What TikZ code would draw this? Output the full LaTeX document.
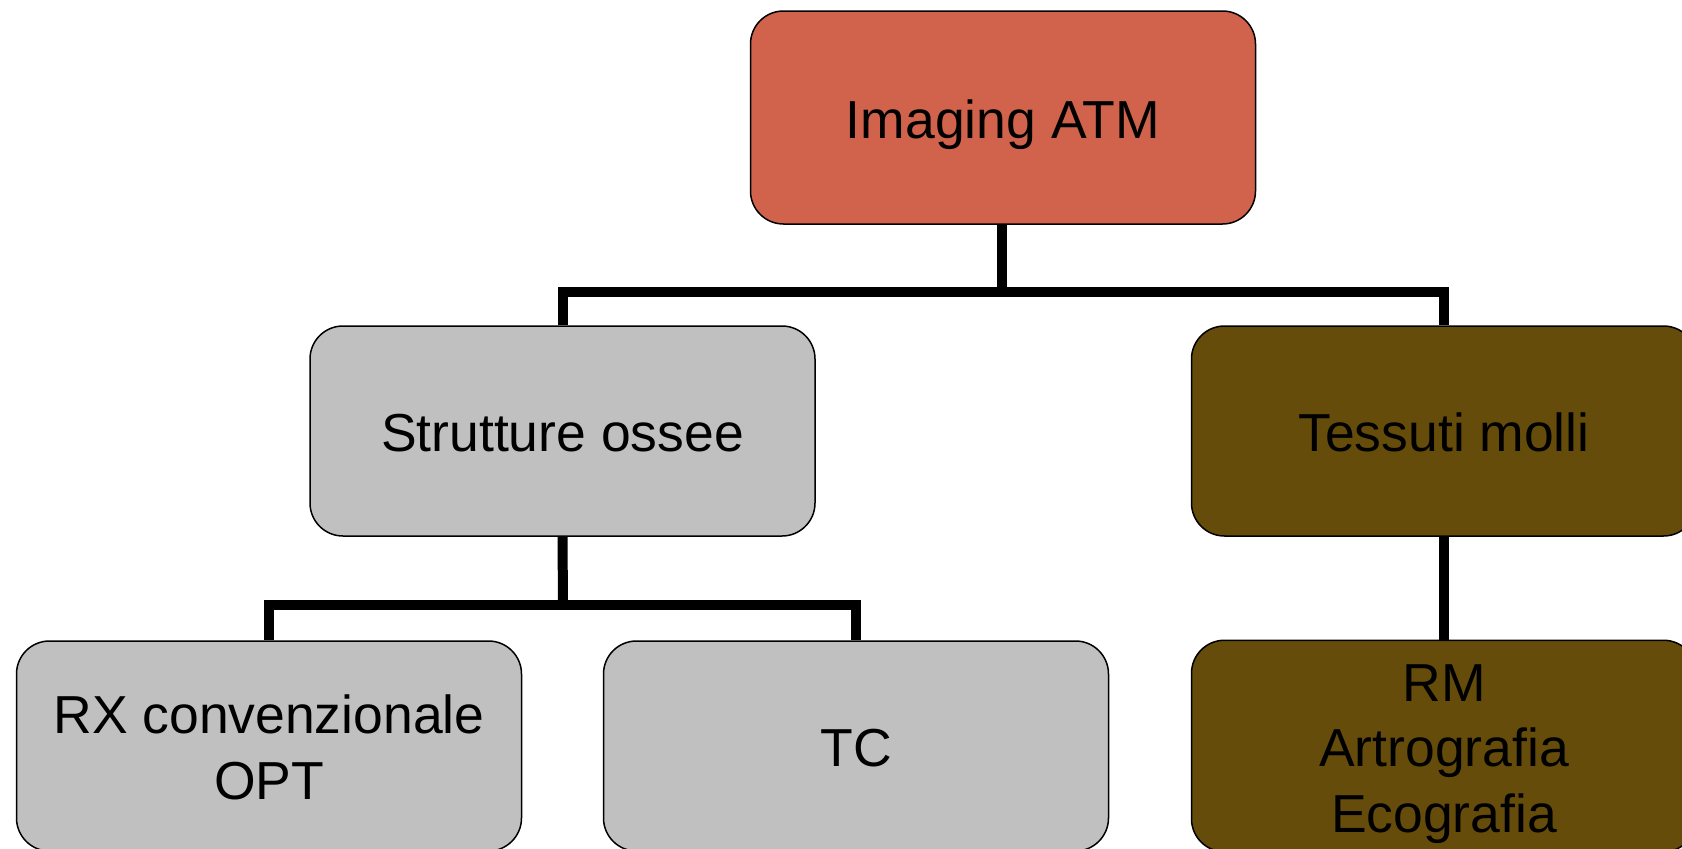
\documentclass[tikz,border=0pt]{standalone}
\usepackage{fontspec}
\setmainfont{Liberation Sans}
\newcommand{\boxtext}[1]{\raisebox{0pt}[\dimexpr\height+15pt\relax][\depth]{\begin{tabular}{@{}c@{}}#1\end{tabular}}}
\begin{document}
\begin{tikzpicture}[x=1pt,y=-1pt,
  box/.style={draw=black,line width=1.5pt,rounded corners=33pt,minimum width=505pt,minimum height=210pt,inner sep=0pt,font=\fontsize{53.5}{65.5}\selectfont},
  redbox/.style={box,fill=topred},
  graybox/.style={box,fill=boxgray},
  brownbox/.style={box,fill=boxbrown},
  conn/.style={line width=10pt,line join=miter,line cap=butt}]
\definecolor{topred}{RGB}{209,99,76}
\definecolor{boxgray}{RGB}{192,192,192}
\definecolor{boxbrown}{RGB}{101,76,10}
\clip (0,0) rectangle (1682,849);
\fill[white] (0,0) rectangle (1682,849);
\node[redbox,minimum height=213pt] (top) at (1003,117.5) {\boxtext{Imaging ATM}};
\node[graybox] (so) at (562.5,431) {\boxtext{Strutture ossee}};
\node[brownbox] (tm) at (1444,431) {\boxtext{Tessuti molli}};
\node[graybox] (rx) at (269,746) {\boxtext{RX convenzionale\\OPT}};
\node[graybox] (tc) at (856,746) {\boxtext{TC}};
\node[brownbox] (rm) at (1444,746) {\boxtext{RM\\Artrografia\\Ecografia}};
\coordinate (b1) at (1002,292);
\coordinate (b2) at (563,605);
\draw[conn] (top.south -| b1) -- (b1);
\draw[conn] (so.north) |- (b1) -| (tm.north);
\draw[conn] (so.south) -- (b2);
\draw[conn] (rx.north) |- (b2) -| (tc.north);
\draw[conn] (tm.south) -- (rm.north);
\end{tikzpicture}
\end{document}
